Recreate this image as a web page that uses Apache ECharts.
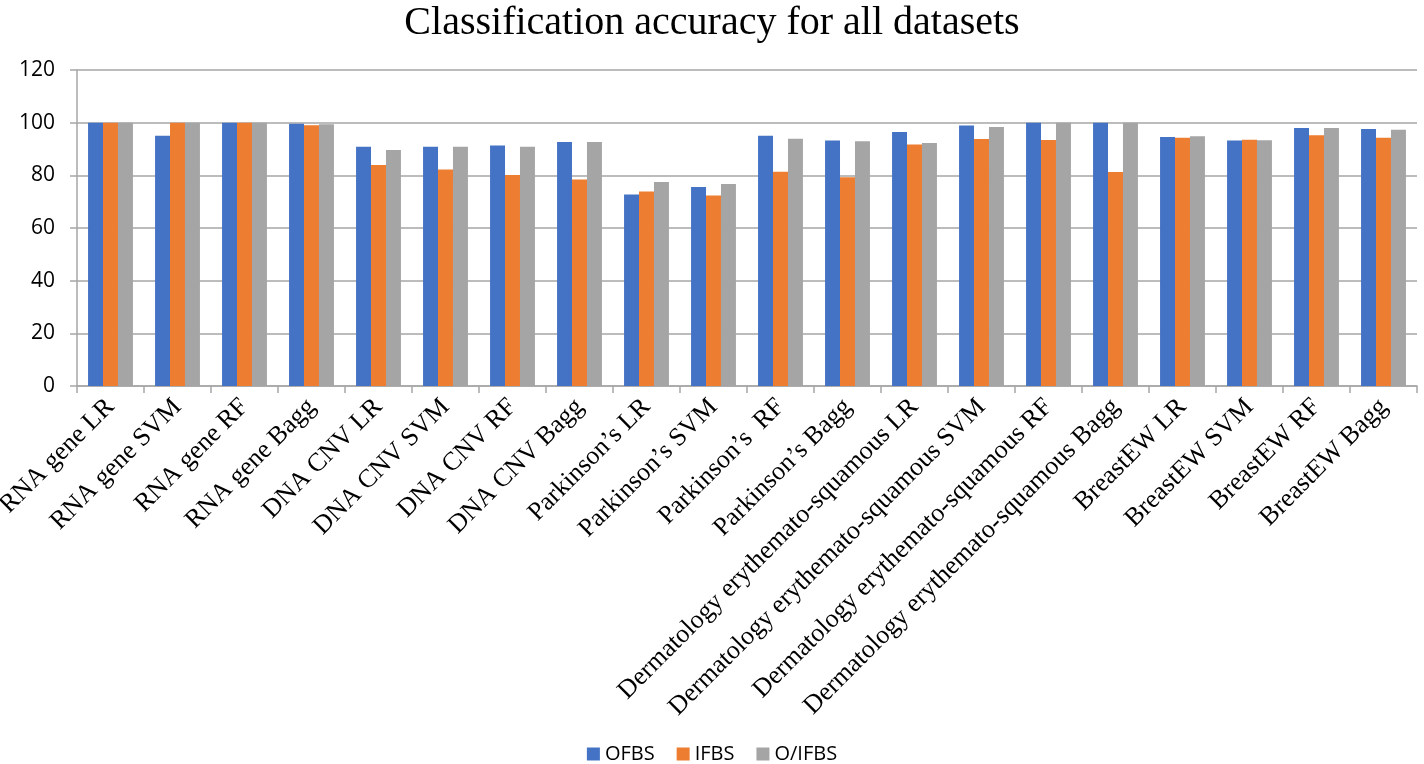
<!DOCTYPE html>
<html><head><meta charset="utf-8">
<script src="https://cdn.jsdelivr.net/npm/echarts@6/dist/echarts.min.js"></script>
<style>html,body{margin:0;padding:0;background:#fff}#c{width:1424px;height:764px}</style>
</head><body><div id="c"></div>
<script>
const categories = ["RNA gene LR","RNA gene SVM","RNA gene RF","RNA gene Bagg","DNA CNV LR","DNA CNV SVM","DNA CNV RF","DNA CNV Bagg","Parkinson\u2019s LR","Parkinson\u2019s SVM","Parkinson\u2019s  RF","Parkinson\u2019s Bagg","Dermatology erythemato-squamous LR","Dermatology erythemato-squamous SVM","Dermatology erythemato-squamous RF","Dermatology erythemato-squamous Bagg","BreastEW LR","BreastEW SVM","BreastEW RF","BreastEW Bagg"];
const ofbs  = [100,95,100,99.6,90.9,90.9,91.3,92.7,72.7,75.6,95.0,93.2,96.5,98.9,100,100,94.6,93.2,98.0,97.6];
const ifbs  = [100,100,100,99.0,83.9,82.2,80.1,78.4,73.9,72.3,81.4,79.3,91.7,93.8,93.4,81.3,94.3,93.5,95.2,94.3];
const oifbs = [100,100,100,99.4,89.6,90.9,90.9,92.7,77.5,76.7,93.9,92.9,92.3,98.4,100,100,94.8,93.3,98.0,97.3];
const seriesNames = ["OFBS","IFBS","O/IFBS"];
const yTicks = {min:0,max:120,interval:20};
const chart = echarts.init(document.getElementById('c'));
const colors = ['#4472C4','#ED7D31','#A5A5A5'];
chart.setOption({
  animation:false,
  color: colors,
  title:{text:'Classification accuracy for all datasets',left:'center',top:-2,
    textStyle:{fontFamily:'Liberation Serif',fontSize:40,fontWeight:'normal',color:'#000'}},
  legend:{top:739,left:'center',itemWidth:13,itemHeight:13,itemGap:22,icon:'rect',
    textStyle:{fontFamily:'Open Sans',fontSize:20,color:'#000'},data:seriesNames},
  grid:{left:77,right:7,top:70,bottom:378,containLabel:false,outerBoundsMode:'none'},
  xAxis:{type:'category',data:categories,
    axisLine:{lineStyle:{color:'#a6a6a6',width:1.5}},
    axisTick:{show:true,length:7,lineStyle:{color:'#a6a6a6',width:1.5}},
    axisLabel:{rotate:45,interval:0,margin:17,fontFamily:'Liberation Serif',fontSize:26,color:'#000'}},
  yAxis:{type:'value',min:yTicks.min,max:yTicks.max,interval:yTicks.interval,
    axisLine:{show:true,lineStyle:{color:'#a6a6a6',width:1.5}},
    axisTick:{show:true,length:7,lineStyle:{color:'#a6a6a6',width:1.5}},
    splitLine:{lineStyle:{color:'#a6a6a6',width:1.5}},
    axisLabel:{fontFamily:'Open Sans',fontSize:21,color:'#000',margin:22}},
  series:[
    {name:seriesNames[0],type:'bar',data:ofbs,barGap:'0%',barCategoryGap:'33%'},
    {name:seriesNames[1],type:'bar',data:ifbs,barGap:'0%',barCategoryGap:'33%'},
    {name:seriesNames[2],type:'bar',data:oifbs,barGap:'0%',barCategoryGap:'33%'}
  ]
});
</script></body></html>
